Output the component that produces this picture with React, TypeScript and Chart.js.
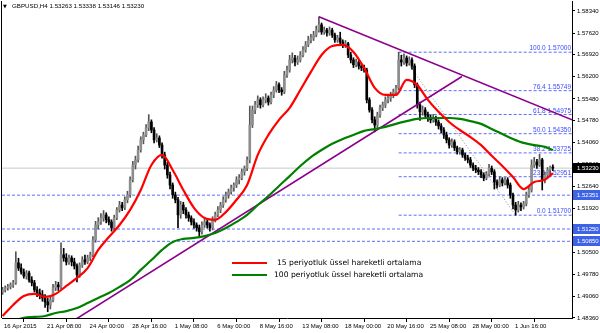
import React, { useEffect, useRef } from "react";
import { Chart, registerables } from "chart.js";
Chart.register(...registerables);

const SYMBOL = "GBPUSD,H4";

const OPEN = [
  1.4920,1.4927,1.4934,1.4937,1.4943,1.4950,1.5015,1.4998,1.4985,1.4972,
  1.4982,1.4959,1.4950,1.4927,1.4917,1.4911,1.4901,1.4888,1.4878,1.4894,
  1.4934,1.4943,1.4937,1.5041,1.5031,1.5018,1.5031,1.5018,1.5005,1.4976,
  1.5008,1.5025,1.5018,1.5031,1.5041,1.5090,1.5138,1.5148,1.5161,1.5171,
  1.5155,1.5148,1.5129,1.5161,1.5187,1.5203,1.5194,1.5220,1.5236,1.5285,
  1.5333,1.5350,1.5382,1.5415,1.5431,1.5454,1.5473,1.5447,1.5415,1.5421,
  1.5398,1.5366,1.5333,1.5301,1.5268,1.5236,1.5220,1.5171,1.5203,1.5187,
  1.5171,1.5161,1.5148,1.5138,1.5129,1.5116,1.5138,1.5148,1.5138,1.5129,
  1.5155,1.5171,1.5187,1.5203,1.5220,1.5236,1.5246,1.5259,1.5268,1.5285,
  1.5291,1.5311,1.5323,1.5350,1.5463,1.5512,1.5529,1.5545,1.5529,1.5545,
  1.5551,1.5538,1.5561,1.5577,1.5594,1.5577,1.5571,1.5626,1.5642,1.5675,
  1.5681,1.5668,1.5675,1.5691,1.5707,1.5724,1.5740,1.5746,1.5756,1.5772,
  1.5789,1.5766,1.5772,1.5763,1.5772,1.5756,1.5740,1.5746,1.5733,1.5724,
  1.5727,1.5691,1.5675,1.5659,1.5668,1.5655,1.5649,1.5642,1.5545,1.5512,
  1.5480,1.5463,1.5496,1.5519,1.5529,1.5545,1.5551,1.5561,1.5571,1.5584,
  1.5675,1.5668,1.5681,1.5665,1.5675,1.5655,1.5594,1.5529,1.5506,1.5512,
  1.5496,1.5486,1.5480,1.5486,1.5473,1.5460,1.5447,1.5431,1.5415,1.5398,
  1.5408,1.5389,1.5376,1.5382,1.5366,1.5356,1.5350,1.5333,1.5323,1.5317,
  1.5311,1.5301,1.5291,1.5304,1.5323,1.5311,1.5278,1.5268,1.5285,1.5275,
  1.5285,1.5268,1.5236,1.5203,1.5187,1.5203,1.5197,1.5207,1.5236,1.5252,
  1.5333,1.5343,1.5333,1.5350,1.5285,1.5301,1.5317,1.53263,
];
const HIGH = [
  1.4935,1.4940,1.4945,1.4950,1.4958,1.5051,1.5030,1.5012,1.4995,1.4990,
  1.4988,1.4970,1.4958,1.4938,1.4930,1.4925,1.4912,1.4900,1.4905,1.4945,
  1.4955,1.4952,1.5080,1.5062,1.5045,1.5040,1.5038,1.5030,1.5012,1.5015,
  1.5035,1.5040,1.5040,1.5050,1.5100,1.5150,1.5162,1.5175,1.5185,1.5178,
  1.5165,1.5155,1.5170,1.5195,1.5215,1.5212,1.5230,1.5248,1.5295,1.5345,
  1.5362,1.5395,1.5425,1.5440,1.5465,1.5497,1.5480,1.5455,1.5435,1.5428,
  1.5405,1.5375,1.5342,1.5310,1.5275,1.5245,1.5228,1.5215,1.5212,1.5195,
  1.5180,1.5168,1.5158,1.5145,1.5138,1.5148,1.5160,1.5155,1.5145,1.5165,
  1.5180,1.5198,1.5212,1.5230,1.5245,1.5255,1.5268,1.5275,1.5295,1.5302,
  1.5320,1.5330,1.5360,1.5525,1.5525,1.5540,1.5558,1.5552,1.5555,1.5565,
  1.5558,1.5570,1.5588,1.5605,1.5600,1.5585,1.5638,1.5655,1.5690,1.5698,
  1.5690,1.5688,1.5702,1.5718,1.5735,1.5752,1.5758,1.5768,1.5785,1.5815,
  1.5795,1.5782,1.5778,1.5782,1.5778,1.5762,1.5755,1.5765,1.5740,1.5738,
  1.5732,1.5700,1.5682,1.5678,1.5675,1.5662,1.5658,1.5648,1.5552,1.5520,
  1.5490,1.5505,1.5528,1.5538,1.5555,1.5560,1.5570,1.5580,1.5592,1.5700,
  1.5690,1.5695,1.5688,1.5685,1.5682,1.5662,1.5600,1.5538,1.5525,1.5520,
  1.5505,1.5495,1.5498,1.5492,1.5480,1.5468,1.5455,1.5440,1.5422,1.5418,
  1.5415,1.5395,1.5390,1.5388,1.5372,1.5365,1.5358,1.5340,1.5332,1.5325,
  1.5318,1.5308,1.5312,1.5335,1.5330,1.5318,1.5285,1.5295,1.5292,1.5292,
  1.5292,1.5275,1.5242,1.5212,1.5215,1.5210,1.5215,1.5245,1.5262,1.5350,
  1.5358,1.5352,1.5368,1.5355,1.5310,1.5325,1.5330,1.53338,
];
const LOW = [
  1.4912,1.4920,1.4926,1.4930,1.4935,1.4945,1.4990,1.4978,1.4965,1.4962,
  1.4952,1.4940,1.4920,1.4905,1.4898,1.4890,1.4870,1.4856,1.4865,1.4888,
  1.4925,1.4925,1.4930,1.5020,1.5008,1.5010,1.5005,1.4995,1.4953,1.4968,
  1.5000,1.5010,1.5012,1.5022,1.5035,1.5082,1.5125,1.5140,1.5150,1.5145,
  1.5138,1.5118,1.5122,1.5155,1.5180,1.5185,1.5188,1.5210,1.5228,1.5278,
  1.5320,1.5342,1.5375,1.5402,1.5425,1.5445,1.5438,1.5405,1.5408,1.5390,
  1.5355,1.5320,1.5290,1.5255,1.5225,1.5210,1.5129,1.5160,1.5175,1.5160,
  1.5150,1.5138,1.5128,1.5118,1.5099,1.5108,1.5130,1.5128,1.5118,1.5122,
  1.5148,1.5165,1.5178,1.5195,1.5212,1.5225,1.5238,1.5248,1.5260,1.5272,
  1.5285,1.5300,1.5315,1.5340,1.5455,1.5500,1.5520,1.5518,1.5522,1.5535,
  1.5528,1.5532,1.5552,1.5570,1.5568,1.5560,1.5565,1.5618,1.5635,1.5665,
  1.5655,1.5660,1.5668,1.5685,1.5700,1.5718,1.5730,1.5738,1.5750,1.5765,
  1.5758,1.5758,1.5752,1.5755,1.5748,1.5732,1.5732,1.5725,1.5715,1.5715,
  1.5682,1.5665,1.5650,1.5652,1.5645,1.5640,1.5635,1.5535,1.5505,1.5470,
  1.5441,1.5455,1.5488,1.5510,1.5520,1.5535,1.5540,1.5552,1.5562,1.5578,
  1.5655,1.5660,1.5655,1.5658,1.5645,1.5585,1.5518,1.5478,1.5495,1.5488,
  1.5475,1.5470,1.5472,1.5462,1.5450,1.5438,1.5420,1.5405,1.5388,1.5390,
  1.5380,1.5368,1.5368,1.5358,1.5348,1.5340,1.5325,1.5315,1.5308,1.5302,
  1.5292,1.5282,1.5285,1.5298,1.5302,1.5255,1.5258,1.5262,1.5265,1.5268,
  1.5258,1.5225,1.5190,1.5170,1.5180,1.5185,1.5190,1.5200,1.5228,1.5245,
  1.5325,1.5322,1.5328,1.5252,1.5275,1.5295,1.5305,1.53146,
];
const CLOSE = [
  1.4927,1.4934,1.4937,1.4943,1.4950,1.5015,1.4998,1.4985,1.4972,1.4982,
  1.4959,1.4950,1.4927,1.4917,1.4911,1.4901,1.4888,1.4878,1.4894,1.4934,
  1.4943,1.4937,1.5041,1.5031,1.5018,1.5031,1.5018,1.5005,1.4976,1.5008,
  1.5025,1.5018,1.5031,1.5041,1.5090,1.5138,1.5148,1.5161,1.5171,1.5155,
  1.5148,1.5129,1.5161,1.5187,1.5203,1.5194,1.5220,1.5236,1.5285,1.5333,
  1.5350,1.5382,1.5415,1.5431,1.5454,1.5473,1.5447,1.5415,1.5421,1.5398,
  1.5366,1.5333,1.5301,1.5268,1.5236,1.5220,1.5171,1.5203,1.5187,1.5171,
  1.5161,1.5148,1.5138,1.5129,1.5116,1.5138,1.5148,1.5138,1.5129,1.5155,
  1.5171,1.5187,1.5203,1.5220,1.5236,1.5246,1.5259,1.5268,1.5285,1.5291,
  1.5311,1.5323,1.5350,1.5463,1.5512,1.5529,1.5545,1.5529,1.5545,1.5551,
  1.5538,1.5561,1.5577,1.5594,1.5577,1.5571,1.5626,1.5642,1.5675,1.5681,
  1.5668,1.5675,1.5691,1.5707,1.5724,1.5740,1.5746,1.5756,1.5772,1.5789,
  1.5766,1.5772,1.5763,1.5772,1.5756,1.5740,1.5746,1.5733,1.5724,1.5727,
  1.5691,1.5675,1.5659,1.5668,1.5655,1.5649,1.5642,1.5545,1.5512,1.5480,
  1.5463,1.5496,1.5519,1.5529,1.5545,1.5551,1.5561,1.5571,1.5584,1.5675,
  1.5668,1.5681,1.5665,1.5675,1.5655,1.5594,1.5529,1.5506,1.5512,1.5496,
  1.5486,1.5480,1.5486,1.5473,1.5460,1.5447,1.5431,1.5415,1.5398,1.5408,
  1.5389,1.5376,1.5382,1.5366,1.5356,1.5350,1.5333,1.5323,1.5317,1.5311,
  1.5301,1.5291,1.5304,1.5323,1.5311,1.5278,1.5268,1.5285,1.5275,1.5285,
  1.5268,1.5236,1.5203,1.5187,1.5203,1.5197,1.5207,1.5236,1.5252,1.5333,
  1.5343,1.5333,1.5350,1.5285,1.5301,1.5317,1.5326,1.53230,
];

const EMA_IDX = [0,4,8,12,16,20,24,28,32,36,40,44,48,52,56,60,64,68,72,76,80,84,88,92,96,100,104,108,112,116,120,124,128,132,136,140,144,148,152,156,160,164,168,172,176,180,184,188,192,196,200,204,207];
const EMA15 = [1.4842,1.4878,1.4907,1.4914,1.4904,1.4914,1.4940,1.4966,1.4998,1.5057,1.5099,1.5138,1.5187,1.5252,1.5333,1.5366,1.5317,1.5252,1.5194,1.5161,1.5155,1.5180,1.5220,1.5268,1.5366,1.5431,1.5480,1.5519,1.5577,1.5636,1.5691,1.5720,1.5724,1.5701,1.5649,1.5584,1.5561,1.5561,1.5610,1.5593,1.5545,1.5506,1.5473,1.5447,1.5424,1.5398,1.5363,1.5330,1.5294,1.5255,1.5278,1.5285,1.5307];
const EMA100 = [1.4819,1.4826,1.4836,1.4839,1.4842,1.4852,1.4858,1.4868,1.4884,1.4901,1.4917,1.4937,1.4959,1.4992,1.5024,1.5057,1.5083,1.5093,1.5096,1.5102,1.5112,1.5128,1.5148,1.5171,1.5203,1.5232,1.5265,1.5297,1.5330,1.5359,1.5382,1.5402,1.5418,1.5431,1.5444,1.5450,1.5457,1.5467,1.5476,1.5483,1.5486,1.5486,1.5486,1.5483,1.5476,1.5467,1.5450,1.5434,1.5418,1.5405,1.5398,1.5392,1.5382];

const X_TICK_IDX = [-0.2,16,32,48,64,80,96,112,128,144,160,176,192];
const X_TICK_LABELS = ["16 Apr 2015","21 Apr 08:00","24 Apr 00:00","28 Apr 16:00","1 May 08:00","6 May 00:00","8 May 16:00","13 May 08:00","18 May 00:00","20 May 16:00","25 May 08:00","28 May 00:00","1 Jun 16:00"];
const Y_TICKS = [1.5834,1.5762,1.5692,1.562,1.5548,1.5478,1.5406,1.5334,1.5264,1.5192,1.512,1.505,1.4978,1.4906,1.4836];

const X_MIN = -0.2;
const X_MAX = 214.2;
const Y_MIN = 1.48356;
const Y_MAX = 1.58665;

const TREND_UP_X = [27.6, 172.8];
const TREND_UP_Y = [1.4832, 1.5621];
const TREND_DOWN_X = [119, 214.2];
const TREND_DOWN_Y = [1.5815, 1.5480];

const H_LINES = [1.52351, 1.5125, 1.5085];
const FIB_LEVELS = [100, 76.4, 61.8, 50, 38.2, 23.6, 0];
const FIB_PRICES = [1.57, 1.55749, 1.54975, 1.5435, 1.53725, 1.52951, 1.517];
const FIB_START = 149;
const FIB_BASE_X = [149.5, 193];
const FIB_BASE_Y = [1.57, 1.517];

const LEGEND_LABELS = ["15 periyotluk üssel hareketli ortalama", "100 periyotluk üssel hareketli ortalama"];

const RED = "#ff0000";
const GREEN = "#008000";
const PURPLE = "#8b008b";
const BLUE_DASH = "#5c6cff";
const FIB_TEXT = "#3c4cff";
const BOX_BLUE = "#3f63e6";
const SMALL = '"Liberation Sans", Arial, sans-serif';
const LEGEND_FONT = '"DejaVu Sans", Verdana, sans-serif';

export default function App() {
  const ref = useRef<HTMLCanvasElement | null>(null);
  useEffect(() => {
    const canvas = ref.current;
    if (!canvas) return;
    const n = CLOSE.length;
    const last = n - 1;
    const idx = CLOSE.map((_, i) => i);
    const isBull = (i: number) => CLOSE[i] >= OPEN[i];
    const hline = (v: number) => [{ x: X_MIN, y: v }, { x: X_MAX, y: v }];

    const overlay = {
      id: "overlay",
      beforeDraw(chart: any) {
        const c = chart.ctx;
        c.save();
        c.fillStyle = "#ffffff";
        c.fillRect(0, 0, chart.width, chart.height);
        c.restore();
      },
      beforeDatasetsDraw(chart: any) {
        const c = chart.ctx;
        const a = chart.chartArea;
        const y = chart.scales.y;
        c.save();
        c.font = `6.5px ${SMALL}`;
        c.fillStyle = FIB_TEXT;
        c.textAlign = "right";
        c.textBaseline = "bottom";
        FIB_LEVELS.forEach((l, k) => {
          const py = y.getPixelForValue(FIB_PRICES[k]);
          c.fillText(`${l.toFixed(1)} ${FIB_PRICES[k].toFixed(5)}`, a.right - 1, py - 0.5);
        });
        c.restore();
      },
      afterDatasetsDraw(chart: any) {
        const c = chart.ctx;
        const a = chart.chartArea;
        c.save();
        c.strokeStyle = "#000";
        c.lineWidth = 1;
        c.beginPath();
        c.moveTo(a.left - 0.5, a.top);
        c.lineTo(a.left - 0.5, a.bottom);
        c.stroke();
        const rows = [
          { color: RED, y: 263, tx: 277 },
          { color: GREEN, y: 275, tx: 274 },
        ];
        rows.forEach((r, k) => {
          c.strokeStyle = r.color;
          c.lineWidth = 2;
          c.beginPath();
          c.moveTo(232, r.y);
          c.lineTo(267, r.y);
          c.stroke();
          c.fillStyle = "#000";
          c.font = `7.6px ${LEGEND_FONT}`;
          c.textAlign = "left";
          c.textBaseline = "middle";
          c.fillText(LEGEND_LABELS[k], r.tx, r.y);
        });
        c.fillStyle = "#000";
        c.font = `5px ${LEGEND_FONT}`;
        c.textBaseline = "middle";
        c.fillText("▼", 3, 6.5);
        c.font = `6.2px ${SMALL}`;
        c.fillText(
          `${SYMBOL} ${OPEN[last].toFixed(5)} ${HIGH[last].toFixed(5)} ${LOW[last].toFixed(5)} ${CLOSE[last].toFixed(5)}`,
          12, 6.5
        );
        c.restore();
      },
      afterDraw(chart: any) {
        const c = chart.ctx;
        const a = chart.chartArea;
        const y = chart.scales.y;
        const marks = [
          { v: CLOSE[last], bg: "#000000" },
          { v: H_LINES[0], bg: BOX_BLUE },
          { v: H_LINES[1], bg: BOX_BLUE },
          { v: H_LINES[2], bg: BOX_BLUE },
        ];
        c.save();
        marks.forEach((m) => {
          const py = y.getPixelForValue(m.v);
          c.fillStyle = m.bg;
          c.fillRect(a.right + 1, Math.round(py) - 5, chart.width - a.right - 1, 10);
          c.fillStyle = "#fff";
          c.font = `6px ${SMALL}`;
          c.textAlign = "left";
          c.textBaseline = "middle";
          c.fillText(m.v.toFixed(5), a.right + 5, Math.round(py));
        });
        c.restore();
      },
    };

    const lineDs = (data: any[], color: string, width: number, extra: any = {}) => ({
      type: "line",
      data,
      borderColor: color,
      borderWidth: width,
      pointRadius: 0,
      fill: false,
      ...extra,
    });

    const datasets: any[] = [
      lineDs(EMA_IDX.map((i, k) => ({ x: i, y: EMA15[k] })), RED, 2.2, { order: 1, cubicInterpolationMode: "monotone" }),
      lineDs(EMA_IDX.map((i, k) => ({ x: i, y: EMA100[k] })), GREEN, 2.2, { order: 2, cubicInterpolationMode: "monotone" }),
      lineDs(TREND_UP_X.map((x, k) => ({ x, y: TREND_UP_Y[k] })), PURPLE, 1.6, { order: 3 }),
      lineDs(TREND_DOWN_X.map((x, k) => ({ x, y: TREND_DOWN_Y[k] })), PURPLE, 1.6, { order: 3 }),
      {
        type: "bar",
        data: idx.map((i) => ({ x: i, y: [OPEN[i], CLOSE[i]] })),
        backgroundColor: idx.map((i) => (isBull(i) ? "#8e8e8e" : "#000000")),
        barThickness: 2,
        minBarLength: 1,
        grouped: false,
        order: 10,
      },
      {
        type: "bar",
        data: idx.map((i) => ({ x: i, y: [LOW[i], HIGH[i]] })),
        backgroundColor: idx.map((i) => (isBull(i) ? "#555555" : "#000000")),
        barThickness: 1,
        grouped: false,
        order: 11,
      },
      lineDs(FIB_BASE_X.map((x, k) => ({ x, y: FIB_BASE_Y[k] })), "#8a8a8a", 1, { order: 20, borderDash: [1, 2] }),
      lineDs(hline(CLOSE[last]), "#c8c8c8", 1, { order: 21 }),
      ...H_LINES.map((v) => lineDs(hline(v), BLUE_DASH, 1, { order: 22, borderDash: [3, 2] })),
      ...FIB_PRICES.map((v) => lineDs([{ x: FIB_START, y: v }, { x: X_MAX, y: v }], BLUE_DASH, 1, { order: 22, borderDash: [3, 2] })),
    ];

    const resetPad = (s: any) => {
      s.paddingLeft = 0;
      s.paddingRight = 0;
      s.paddingTop = 0;
      s.paddingBottom = 0;
    };

    const chart = new Chart(canvas, {
      type: "bar",
      data: { datasets },
      plugins: [overlay],
      options: {
        animation: false,
        responsive: false,
        events: [],
        layout: { padding: { left: 2, top: 1, right: 0, bottom: 0 } },
        plugins: { legend: { display: false }, tooltip: { enabled: false }, title: { display: false } },
        scales: {
          x: {
            type: "linear",
            position: "bottom",
            min: X_MIN,
            max: X_MAX,
            offset: false,
            grid: { display: true, drawOnChartArea: false, drawTicks: true, tickLength: 4, color: "#000", lineWidth: 1 },
            border: { display: true, color: "#000", width: 1 },
            afterBuildTicks: (s: any) => {
              s.ticks = X_TICK_IDX.map((v) => ({ value: v }));
            },
            afterFit: (s: any) => {
              s.height = 15;
              resetPad(s);
            },
            ticks: {
              autoSkip: false,
              maxRotation: 0,
              minRotation: 0,
              align: "start",
              labelOffset: 2,
              padding: 1,
              color: "#000",
              font: { family: SMALL, size: 6 },
              callback: (_v: any, i: number) => X_TICK_LABELS[i],
            },
          },
          y: {
            type: "linear",
            position: "right",
            min: Y_MIN,
            max: Y_MAX,
            grid: { display: true, drawOnChartArea: false, drawTicks: true, tickLength: 3, color: "#000", lineWidth: 1 },
            border: { display: true, color: "#000", width: 1 },
            afterBuildTicks: (s: any) => {
              s.ticks = Y_TICKS.map((v) => ({ value: v }));
            },
            afterFit: (s: any) => {
              s.width = 28;
              resetPad(s);
            },
            ticks: {
              padding: 2,
              color: "#000",
              font: { family: SMALL, size: 6 },
              callback: (v: any) => Number(v).toFixed(5),
            },
          },
        },
      } as any,
    } as any);
    return () => chart.destroy();
  }, []);

  return (
    <div style={{ position: "fixed", left: 0, top: 0, width: 600, height: 333, background: "#fff" }}>
      <canvas ref={ref} width={600} height={333} style={{ display: "block", width: 600, height: 333 }} />
    </div>
  );
}
